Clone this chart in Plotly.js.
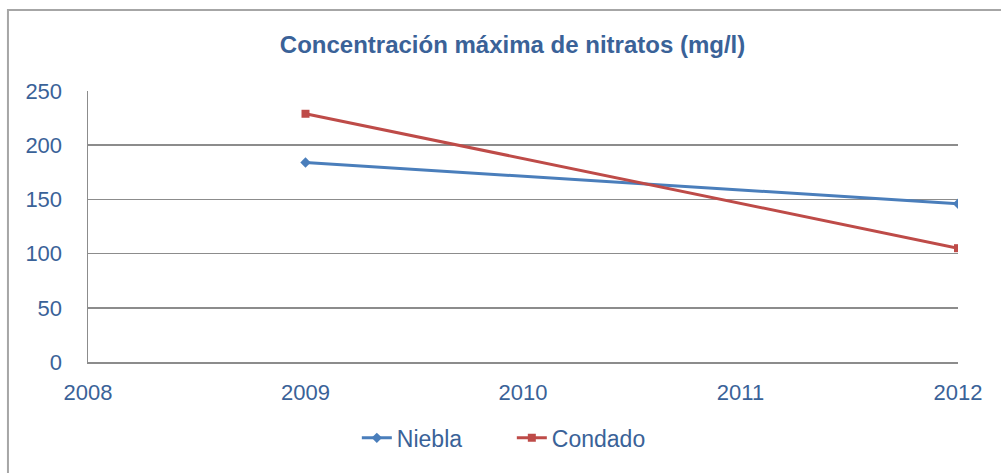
<!DOCTYPE html>
<html>
<head>
<meta charset="utf-8">
<script src="https://cdn.plot.ly/plotly-3.0.1.min.js"></script>
<style>html,body{margin:0;padding:0;background:#fff;}#chart{width:1001px;height:473px;}</style>
</head>
<body>
<div id="chart"></div>
<script>
const years = [2009, 2012];
const niebla = [184, 146];
const condado = [229, 105];
const xTicks = [2008, 2009, 2010, 2011, 2012];
const yTicks = [0, 50, 100, 150, 200, 250];
const titleText = 'Concentración máxima de nitratos (mg/l)';

const textColor = '#3A6298';
const gridColor = '#8C8C8C';

const traces = [
  {x: years, y: niebla, name: 'Niebla', type: 'scatter', mode: 'lines+markers',
   line: {color: '#4A7EBB', width: 3}, marker: {symbol: 'diamond', size: 8, color: '#4A7EBB'}},
  {x: years, y: condado, name: 'Condado', type: 'scatter', mode: 'lines+markers',
   line: {color: '#BE4B48', width: 3}, marker: {symbol: 'square', size: 8, color: '#BE4B48'}}
];

const layout = {
  width: 1001, height: 473,
  margin: {l: 88, r: 43, t: 91, b: 111},
  paper_bgcolor: '#fff', plot_bgcolor: '#fff',
  font: {family: 'Liberation Sans, Arial, sans-serif', size: 22, color: textColor},
  title: {text: '<b>' + titleText + '</b>', x: 0.512, xanchor: 'center', y: 0.905, yanchor: 'middle',
          font: {size: 24, color: textColor}},
  xaxis: {range: [2008, 2012], tickvals: xTicks, ticktext: xTicks.map(String), showgrid: false,
          zeroline: false, showline: true, linecolor: gridColor, linewidth: 1.5, ticks: '',
          ticklabelstandoff: 10,
          tickfont: {size: 22, color: textColor}, fixedrange: true},
  yaxis: {range: [0, 250], tickvals: yTicks, showgrid: true, gridcolor: gridColor, gridwidth: 1.5,
          zeroline: false, showline: true, linecolor: gridColor, linewidth: 1.5, ticks: '',
          ticklabelstandoff: 20,
          tickfont: {size: 22, color: textColor}, fixedrange: true},
  legend: {orientation: 'h', x: 0.309, xanchor: 'left', y: -0.28, yanchor: 'middle',
           font: {size: 23, color: textColor}, entrywidth: 110, entrywidthmode: 'pixels'},
  shapes: [
    {type: 'rect', xref: 'paper', yref: 'paper', x0: -0.092, x1: 1.2, y0: -0.8, y1: 1.299,
     line: {color: '#A6A6A6', width: 2}, fillcolor: 'rgba(0,0,0,0)', layer: 'below'}
  ],
  showlegend: true
};

Plotly.newPlot('chart', traces, layout, {displayModeBar: false, staticPlot: true});
</script>
</body>
</html>
